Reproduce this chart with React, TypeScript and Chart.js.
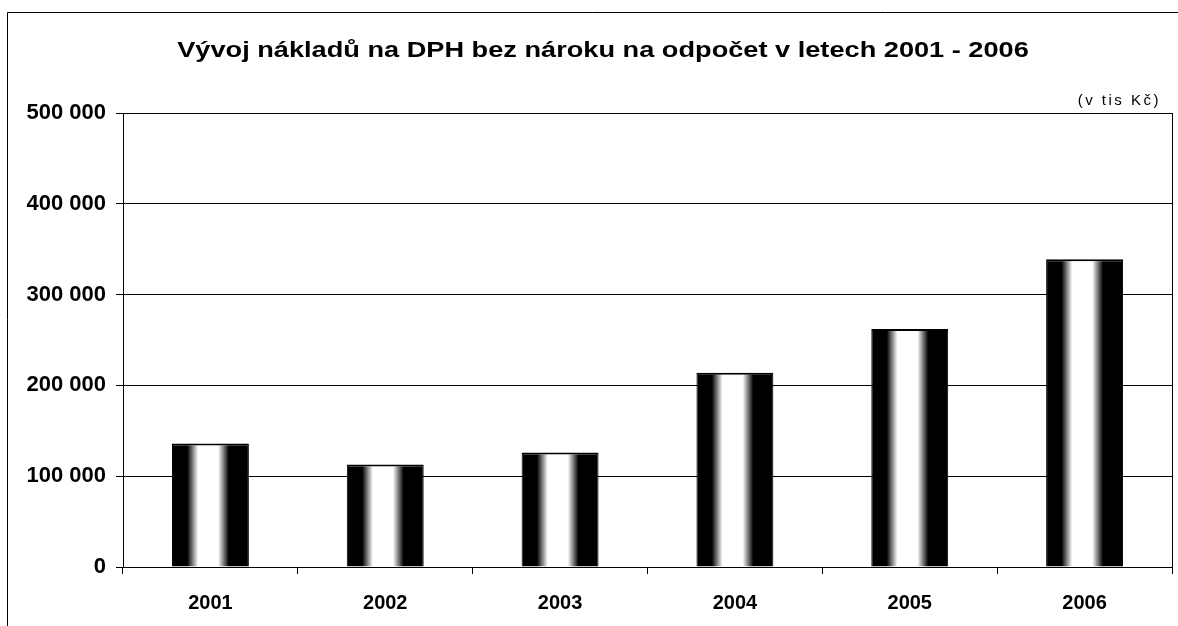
import React, { useEffect, useRef } from "react";
import { Chart, registerables } from "chart.js";

Chart.register(...registerables);

const years = ["2001", "2002", "2003", "2004", "2005", "2006"];
const costs = [136000, 113000, 126000, 214000, 262000, 339000];
const chartTitle = "Vývoj nákladů na DPH bez nároku na odpočet v letech 2001 - 2006";
const unitLabel = "(v tis Kč)";
const yMax = 500000;
const yStep = 100000;

const FONT = "'Liberation Sans', Arial, sans-serif";

const fmt = (v: number) => String(Math.round(v)).replace(/\B(?=(\d{3})+(?!\d))/g, " ");

const decorPlugin = {
  id: "decor",
  beforeDraw(chart: any) {
    const ctx = chart.ctx;
    ctx.save();
    ctx.fillStyle = "#fff";
    ctx.fillRect(0, 0, chart.width, chart.height);
    ctx.strokeStyle = "#000";
    ctx.lineWidth = 1;
    ctx.beginPath();
    ctx.moveTo(7.5, chart.height);
    ctx.lineTo(7.5, 12.5);
    ctx.lineTo(chart.width, 12.5);
    ctx.stroke();
    ctx.restore();
  },
  beforeDatasetsDraw(chart: any) {
    const ctx = chart.ctx;
    const meta = chart.getDatasetMeta(0);
    meta.data.forEach((el: any) => {
      const l = el.x - el.width / 2;
      const r = el.x + el.width / 2;
      const g = ctx.createLinearGradient(l, 0, r, 0);
      g.addColorStop(0, "#000");
      g.addColorStop(0.2, "#000");
      g.addColorStop(0.34, "#fff");
      g.addColorStop(0.6, "#fff");
      g.addColorStop(0.74, "#000");
      g.addColorStop(1, "#000");
      el.options = Object.assign({}, el.options, { backgroundColor: g });
    });
  },
  afterDraw(chart: any) {
    const ctx = chart.ctx;
    const a = chart.chartArea;
    ctx.save();
    ctx.strokeStyle = "#000";
    ctx.lineWidth = 1;
    ctx.strokeRect(Math.round(a.left) + 0.5, Math.round(a.top) + 0.5, Math.round(a.right - a.left), Math.round(a.bottom - a.top));
    ctx.fillStyle = "#000";
    ctx.textBaseline = "alphabetic";
    ctx.textAlign = "center";
    ctx.font = `bold 22px ${FONT}`;
    ctx.save();
    ctx.translate(603, 57);
    ctx.scale(1.235, 1);
    ctx.fillText(chartTitle, 0, 0);
    ctx.restore();
    ctx.textAlign = "right";
    ctx.font = `15px ${FONT}`;
    (ctx as any).letterSpacing = "2.5px";
    ctx.fillText(unitLabel, 1161, 105);
    (ctx as any).letterSpacing = "0px";
    ctx.restore();
  },
};

export default function App() {
  const ref = useRef<HTMLCanvasElement>(null);
  useEffect(() => {
    if (!ref.current) return;
    const chart = new Chart(ref.current, {
      type: "bar",
      data: {
        labels: years,
        datasets: [
          {
            data: costs,
            backgroundColor: () => "#000",
            borderColor: "#000",
            borderWidth: { top: 2, left: 1, right: 1, bottom: 0 },
            borderSkipped: false,
            barPercentage: 0.44,
            categoryPercentage: 1,
          },
        ],
      },
      options: {
        responsive: false,
        animation: false,
        layout: { padding: { top: 113, right: 6, left: 0, bottom: 0 } },
        plugins: {
          legend: { display: false },
          title: { display: false },
          tooltip: { enabled: false },
        },
        scales: {
          x: {
            offset: true,
            grid: {
              display: true,
              offset: true,
              drawOnChartArea: false,
              drawTicks: true,
              tickLength: 7,
              color: "#000",
            },
            border: { display: true, color: "#000", width: 1 },
            ticks: {
              color: "#000",
              font: { family: FONT, size: 20, weight: "bold" },
              padding: 17,
              maxRotation: 0,
            },
            afterFit: (s: any) => {
              s.height = 59;
            },
          },
          y: {
            min: 0,
            max: yMax,
            grid: {
              color: "#000",
              lineWidth: 1,
              drawTicks: true,
              tickLength: 7,
            },
            border: { display: true, color: "#000", width: 1 },
            ticks: {
              stepSize: yStep,
              color: "#000",
              font: { family: FONT, size: 22, weight: "bold" },
              padding: 10,
              callback: (v: any) => fmt(Number(v)),
            },
            afterFit: (s: any) => {
              s.width = 123;
            },
          },
        },
      },
      plugins: [decorPlugin],
    });
    return () => chart.destroy();
  }, []);
  return (
    <div style={{ position: "fixed", left: 0, top: 0, width: 1178, height: 626, background: "#fff" }}>
      <canvas ref={ref} width={1178} height={626} />
    </div>
  );
}
